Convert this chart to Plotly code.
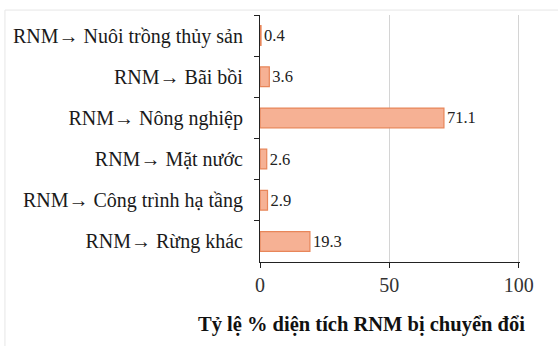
import plotly.graph_objects as go

# Mangrove (RNM) conversion categories and share of converted area (%)
categories = [
    "RNM→ Nuôi trồng thủy sản",
    "RNM→ Bãi bồi",
    "RNM→ Nông nghiệp",
    "RNM→ Mặt nước",
    "RNM→ Công trình hạ tầng",
    "RNM→ Rừng khác",
]
values = [0.4, 3.6, 71.1, 2.6, 2.9, 19.3]
x_ticks = [0, 50, 100]
x_title = "Tỷ lệ % diện tích RNM bị chuyển đổi"

SERIF = "Liberation Serif, Times New Roman, serif"
GRID = "#D4D4D4"

fig = go.Figure(
    go.Bar(
        x=values,
        y=categories,
        orientation="h",
        marker=dict(color="#F6B194", line=dict(color="#E8865A", width=1.2)),
        text=[f"{v:.1f}" for v in values],
        textposition="outside",
        textfont=dict(family=SERIF, size=16.5, color="#222222"),
        cliponaxis=False,
        width=0.48,
    )
)

fig.update_layout(
    width=558,
    height=349,
    margin=dict(l=260, r=38, t=15, b=87),
    paper_bgcolor="white",
    plot_bgcolor="white",
    showlegend=False,
    font=dict(family=SERIF, size=20, color="#1A1A1A"),
    xaxis=dict(
        range=[0, 100.5],
        tickvals=x_ticks,
        showgrid=True,
        gridcolor=GRID,
        gridwidth=1,
        zeroline=False,
        showline=True,
        linecolor="#222222",
        linewidth=1.2,
        ticks="outside",
        ticklen=5,
        tickcolor="#222222",
        tickfont=dict(family=SERIF, size=20, color="#333333"),
    ),
    yaxis=dict(
        autorange="reversed",
        showline=True,
        linecolor="#222222",
        linewidth=1.2,
        ticks="outside",
        tickson="boundaries",
        ticklen=5,
        tickcolor="#222222",
        showgrid=False,
        tickfont=dict(family=SERIF, size=20, color="#1A1A1A"),
        ticklabelstandoff=12,
    ),
    annotations=[
        dict(
            text=f"<b>{x_title}</b>",
            xref="paper",
            yref="paper",
            x=0.39,
            y=-0.255,
            xanchor="center",
            yanchor="middle",
            showarrow=False,
            font=dict(family=SERIF, size=20.5, color="#111111"),
        )
    ],
    shapes=[
        # faint frame edges around the chart
        dict(type="line", xref="paper", yref="paper", x0=-0.981, x1=1.2,
             y0=1.02, y1=1.02, line=dict(color="#E6E6E6", width=1)),
        dict(type="line", xref="paper", yref="paper", x0=-0.981, x1=-0.981,
             y0=1.02, y1=-0.34, line=dict(color="#E6E6E6", width=1)),
    ],
)

fig.write_html("out.html")
